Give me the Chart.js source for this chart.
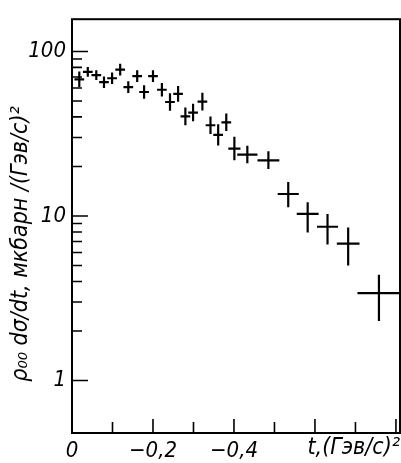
<!DOCTYPE html>
<html><head><meta charset="utf-8">
<script src="https://cdn.jsdelivr.net/npm/chart.js@4.4.1/dist/chart.umd.min.js"></script>
<style>html,body{margin:0;padding:0;background:#fff;overflow:hidden;}</style>
</head><body>
<canvas id="c" width="401" height="463"></canvas>
<script>
// -t values, (GeV/c)^2
const minusT = [0.018, 0.039, 0.060, 0.079, 0.099, 0.119, 0.139, 0.161, 0.178, 0.200, 0.222, 0.242, 0.262, 0.280, 0.299, 0.322, 0.342, 0.361, 0.381, 0.401, 0.433, 0.485, 0.534, 0.582, 0.631, 0.682, 0.758];
const tErr   = [0.012, 0.012, 0.012, 0.012, 0.012, 0.012, 0.012, 0.012, 0.012, 0.012, 0.012, 0.012, 0.012, 0.012, 0.012, 0.012, 0.012, 0.012, 0.012, 0.015, 0.025, 0.027, 0.026, 0.027, 0.026, 0.028, 0.053];
const sigma   = [67.7, 75.2, 71.8, 65.0, 68.7, 77.6, 60.7, 70.8, 56.7, 70.8, 58.5, 49.3, 55.2, 40.3, 42.5, 49.5, 35.6, 31.1, 37.1, 25.7, 23.6, 21.8, 13.6, 10.3, 8.6, 6.8, 3.4];
const sigmaLo = [60.7, 70.2, 67.0, 59.9, 63.3, 71.5, 55.9, 65.3, 51.5, 65.3, 53.2, 43.6, 49.5, 35.6, 37.6, 43.8, 31.5, 26.8, 32.8, 21.8, 20.9, 19.3, 11.3, 7.95, 6.7, 5.0, 2.3];
const sigmaHi = [75.5, 80.5, 76.9, 70.5, 74.5, 84.2, 65.9, 76.8, 62.4, 76.8, 64.4, 55.8, 61.6, 45.6, 48.1, 56.0, 40.3, 36.1, 42.0, 30.3, 26.7, 24.7, 16.1, 12.1, 10.3, 8.5, 4.4];

const xTickValues = [0, 0.1, 0.2, 0.3, 0.4, 0.5, 0.6, 0.7, 0.8];
const xTickLabels = ['0', '', '−0,2', '', '−0,4', '', '', '', ''];
const yMajorValues = [1, 10, 100];
const yMajorLabels = ['1', '10', '100'];
const yMinorFactors = [2, 3, 4, 5, 6, 7, 8, 9];
const xTitle = 't,(Гэв/с)²';
const yTitle = 'ρ₀₀ dσ/dt, мкбарн /(Гэв/с)²';

const FONT = "'Liberation Sans Narrow', 'DejaVu Sans Condensed', 'Liberation Sans', sans-serif";

const framePlugin = {
  id: 'frameAndBars',
  afterDatasetsDraw(chart) {
    const {ctx, chartArea: a, scales: {x, y}} = chart;
    ctx.save();
    ctx.strokeStyle = '#000';
    ctx.lineWidth = 2.2;
    ctx.lineCap = 'butt';
    // error crosses
    ctx.save();
    ctx.beginPath();
    ctx.rect(a.left, a.top, a.right - a.left, a.bottom - a.top);
    ctx.clip();
    ctx.beginPath();
    for (let i = 0; i < minusT.length; i++) {
      const px = x.getPixelForValue(minusT[i]);
      const py = y.getPixelForValue(sigma[i]);
      const x0 = x.getPixelForValue(minusT[i] - tErr[i]);
      const x1 = x.getPixelForValue(minusT[i] + tErr[i]);
      const y0 = y.getPixelForValue(sigmaLo[i]);
      const y1 = y.getPixelForValue(sigmaHi[i]);
      ctx.moveTo(x0, py); ctx.lineTo(x1, py);
      ctx.moveTo(px, y0); ctx.lineTo(px, y1);
    }
    ctx.stroke();
    ctx.restore();
    // frame
    ctx.lineWidth = 2;
    ctx.strokeRect(a.left, a.top, a.right - a.left, a.bottom - a.top);
    // y ticks (inward)
    ctx.lineWidth = 1.6;
    ctx.beginPath();
    yMajorValues.forEach(v => {
      const py = y.getPixelForValue(v);
      ctx.moveTo(a.left, py); ctx.lineTo(a.left + 16, py);
    });
    [1, 10, 100].forEach(d => yMinorFactors.forEach(k => {
      const v = d * k;
      if (v < y.min || v > y.max) return;
      const py = y.getPixelForValue(v);
      ctx.moveTo(a.left, py); ctx.lineTo(a.left + 10, py);
    }));
    // x ticks (inward)
    xTickValues.forEach((v, i) => {
      if (v === 0) return;
      const px = x.getPixelForValue(v);
      ctx.moveTo(px, a.bottom); ctx.lineTo(px, a.bottom - (i % 2 === 0 ? 14 : 11));
    });
    ctx.stroke();
    // y title
    ctx.fillStyle = '#000';
    ctx.font = 'italic 23px ' + FONT;
    ctx.textAlign = 'center';
    ctx.textBaseline = 'middle';
    ctx.translate(21, 244);
    ctx.rotate(-Math.PI / 2);
    ctx.fillText(yTitle, 0, 0);
    ctx.restore();
  }
};

new Chart(document.getElementById('c'), {
  type: 'scatter',
  data: {
    datasets: [{
      data: minusT.map((t, i) => ({x: t, y: sigma[i]})),
      pointRadius: 0,
      showLine: false
    }]
  },
  options: {
    responsive: false,
    devicePixelRatio: 1,
    animation: false,
    layout: {padding: {top: 10, right: 1, left: 0, bottom: 0}},
    plugins: {legend: {display: false}, tooltip: {enabled: false}},
    scales: {
      x: {
        type: 'linear', min: 0, max: 0.81,
        afterBuildTicks: s => { s.ticks = xTickValues.map(v => ({value: v})); },
        afterFit: s => { s.height = 30; },
        grid: {display: false, drawTicks: false},
        border: {display: false},
        ticks: {
          autoSkip: false, maxRotation: 0, padding: 5, color: '#000',
          font: {family: FONT, size: 22, style: 'italic'},
          callback: (v, i) => xTickLabels[xTickValues.indexOf(Math.round(v * 10) / 10)] ?? ''
        },
        title: {display: true, text: xTitle, align: 'end', color: '#000',
          font: {family: FONT, size: 23, style: 'italic'}, padding: {top: 0, bottom: 1}}
      },
      y: {
        type: 'logarithmic', min: 0.48, max: 157,
        afterBuildTicks: s => { s.ticks = yMajorValues.map(v => ({value: v})); },
        afterFit: s => { s.width = 72; },
        grid: {display: false, drawTicks: false},
        border: {display: false},
        ticks: {
          autoSkip: false, padding: 6, color: '#000',
          font: {family: FONT, size: 22, style: 'italic'},
          callback: v => { const k = yMajorValues.indexOf(v); return k >= 0 ? yMajorLabels[k] : ''; }
        }
      }
    }
  },
  plugins: [framePlugin]
});
</script>
</body></html>
